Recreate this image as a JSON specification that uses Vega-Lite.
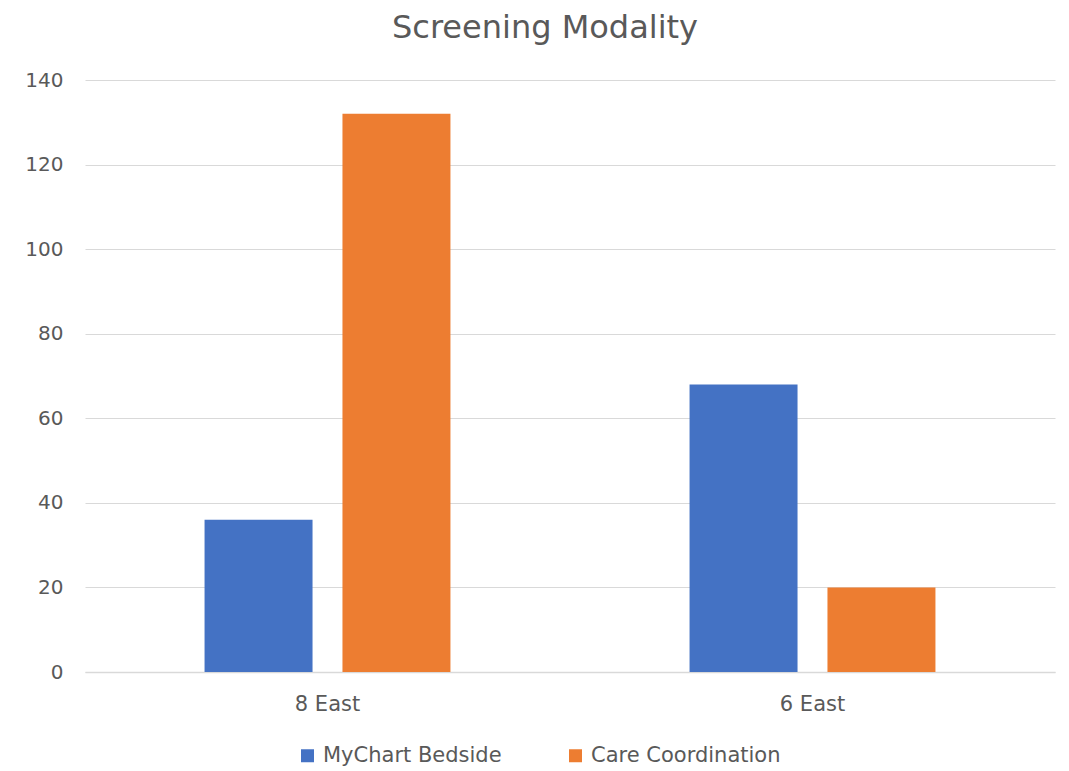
{
  "$schema": "https://vega.github.io/schema/vega-lite/v6.json",
  "width": 970,
  "height": 592,
  "autosize": {"type": "none"},
  "padding": {"left": 85, "top": 80, "right": 14, "bottom": 99},
  "background": "white",
  "title": {
    "text": "Screening Modality",
    "font": "DejaVu Sans",
    "fontSize": 32,
    "fontWeight": "normal",
    "color": "#595959",
    "anchor": "middle",
    "offset": 25,
    "dx": -25
  },
  "data": {
    "values": [
      {"unit": "8 East", "modality": "MyChart Bedside", "count": 36},
      {"unit": "8 East", "modality": "Care Coordination", "count": 132},
      {"unit": "6 East", "modality": "MyChart Bedside", "count": 68},
      {"unit": "6 East", "modality": "Care Coordination", "count": 20}
    ]
  },
  "mark": {"type": "bar"},
  "encoding": {
    "x": {
      "field": "unit",
      "type": "nominal",
      "sort": ["8 East", "6 East"],
      "scale": {"paddingInner": 0.493, "paddingOuter": 0.2465},
      "axis": {
        "title": null,
        "labelAngle": 0,
        "ticks": false,
        "labelPadding": 21,
        "labelFont": "DejaVu Sans",
        "labelFontSize": 21,
        "labelColor": "#595959",
        "domainColor": "#D9D9D9",
        "domainWidth": 1.5,
        "grid": false
      }
    },
    "xOffset": {
      "field": "modality",
      "type": "nominal",
      "sort": ["MyChart Bedside", "Care Coordination"],
      "scale": {"paddingInner": 0.217, "paddingOuter": 0}
    },
    "y": {
      "field": "count",
      "type": "quantitative",
      "scale": {"domain": [0, 140], "nice": false},
      "axis": {
        "title": null,
        "values": [0, 20, 40, 60, 80, 100, 120, 140],
        "domain": false,
        "ticks": false,
        "labelPadding": 22,
        "labelFont": "DejaVu Sans",
        "labelFontSize": 20,
        "labelColor": "#595959",
        "gridColor": "#D9D9D9",
        "gridWidth": 1.2
      }
    },
    "color": {
      "field": "modality",
      "type": "nominal",
      "sort": ["MyChart Bedside", "Care Coordination"],
      "scale": {
        "domain": ["MyChart Bedside", "Care Coordination"],
        "range": ["#4472C4", "#ED7D31"]
      },
      "legend": {
        "title": null,
        "orient": "none",
        "direction": "horizontal",
        "legendX": 212,
        "legendY": 665,
        "symbolType": "square",
        "symbolSize": 169,
        "symbolStrokeWidth": 0,
        "labelFont": "DejaVu Sans",
        "labelFontSize": 21,
        "labelColor": "#595959",
        "labelOffset": 5,
        "labelLimit": 0,
        "columnPadding": 63
      }
    }
  },
  "config": {"view": {"stroke": null}}
}
